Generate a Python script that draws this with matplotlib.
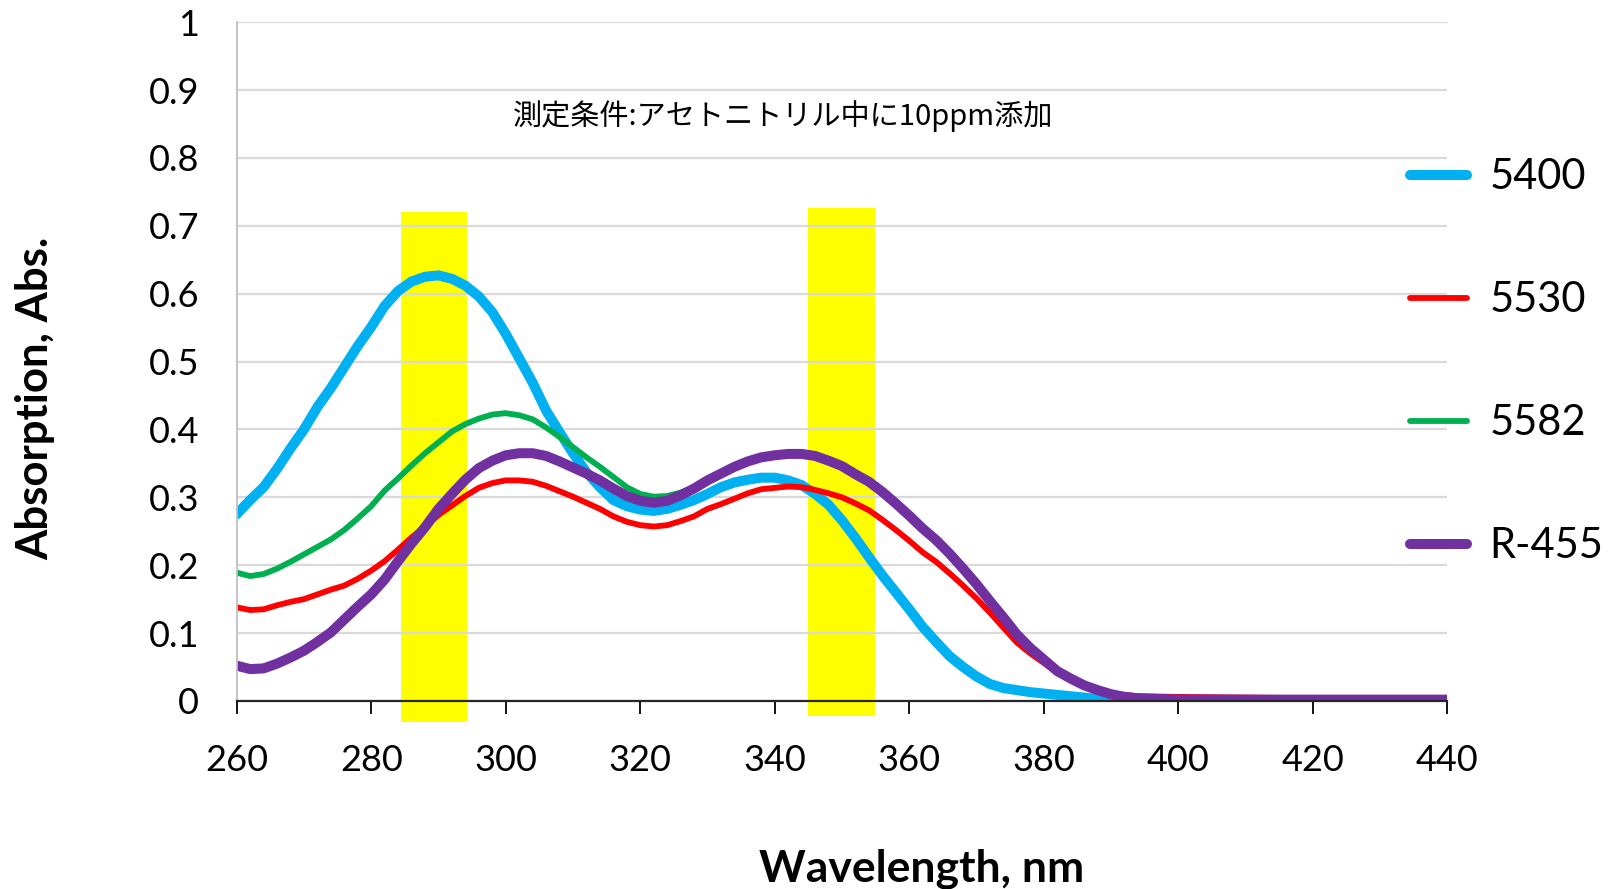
import numpy as np
import matplotlib.pyplot as plt

plt.switch_backend('agg')

# wavelength grid (nm)
wavelength = [260, 262, 264, 266, 268, 270, 272, 274, 276, 278,
              280, 282, 284, 286, 288, 290, 292, 294, 296, 298,
              300, 302, 304, 306, 308, 310, 312, 314, 316, 318,
              320, 322, 324, 326, 328, 330, 332, 334, 336, 338,
              340, 342, 344, 346, 348, 350, 352, 354, 356, 358,
              360, 362, 364, 366, 368, 370, 372, 374, 376, 378,
              380, 382, 384, 386, 388, 390, 392, 394, 400, 410,
              420, 430, 440]

abs_5400 = [0.275, 0.296, 0.315, 0.342, 0.372, 0.400, 0.433, 0.461, 0.492, 0.523,
            0.551, 0.582, 0.604, 0.618, 0.625, 0.627, 0.622, 0.612, 0.596, 0.573,
            0.541, 0.505, 0.469, 0.428, 0.396, 0.365, 0.337, 0.315, 0.296, 0.287,
            0.282, 0.280, 0.283, 0.289, 0.296, 0.305, 0.315, 0.322, 0.326, 0.329,
            0.329, 0.325, 0.318, 0.305, 0.289, 0.266, 0.240, 0.212, 0.185, 0.160,
            0.135, 0.109, 0.087, 0.066, 0.050, 0.036, 0.025, 0.019, 0.016, 0.013,
            0.011, 0.009, 0.007, 0.005, 0.003, 0.002, 0.002, 0.001, 0.001, 0.001,
            0.001, 0.001, 0.001]

abs_5530 = [0.138, 0.134, 0.135, 0.141, 0.146, 0.150, 0.157, 0.164, 0.170, 0.180,
            0.192, 0.206, 0.223, 0.241, 0.257, 0.274, 0.288, 0.302, 0.314, 0.321,
            0.325, 0.325, 0.323, 0.317, 0.309, 0.301, 0.292, 0.283, 0.272, 0.264,
            0.259, 0.257, 0.259, 0.265, 0.272, 0.283, 0.290, 0.298, 0.306, 0.312,
            0.314, 0.316, 0.315, 0.311, 0.306, 0.300, 0.291, 0.281, 0.267, 0.252,
            0.236, 0.219, 0.205, 0.188, 0.170, 0.151, 0.130, 0.108, 0.086, 0.070,
            0.056, 0.042, 0.031, 0.022, 0.016, 0.011, 0.009, 0.007, 0.006, 0.005,
            0.004, 0.004, 0.004]

abs_5582 = [0.189, 0.184, 0.187, 0.195, 0.205, 0.216, 0.227, 0.238, 0.252, 0.269,
            0.287, 0.310, 0.328, 0.347, 0.365, 0.381, 0.397, 0.408, 0.416, 0.422,
            0.424, 0.421, 0.415, 0.403, 0.389, 0.374, 0.359, 0.345, 0.330, 0.315,
            0.305, 0.301, 0.302, 0.307, 0.315, 0.327, 0.337, 0.347, 0.355, 0.361,
            0.364, 0.366, 0.366, 0.363, 0.356, 0.348, 0.336, 0.325, 0.310, 0.293,
            0.275, 0.256, 0.239, 0.219, 0.197, 0.174, 0.149, 0.125, 0.100, 0.080,
            0.063, 0.046, 0.035, 0.025, 0.018, 0.012, 0.008, 0.006, 0.004, 0.003,
            0.003, 0.003, 0.003]

abs_r455 = [0.052, 0.047, 0.048, 0.055, 0.064, 0.074, 0.087, 0.101, 0.120, 0.139,
            0.157, 0.179, 0.206, 0.232, 0.256, 0.283, 0.305, 0.326, 0.343, 0.354,
            0.362, 0.365, 0.365, 0.361, 0.353, 0.344, 0.335, 0.325, 0.313, 0.302,
            0.295, 0.292, 0.295, 0.303, 0.313, 0.325, 0.335, 0.345, 0.353, 0.359,
            0.362, 0.364, 0.364, 0.361, 0.354, 0.346, 0.334, 0.323, 0.308, 0.291,
            0.273, 0.254, 0.237, 0.217, 0.195, 0.172, 0.147, 0.123, 0.098, 0.078,
            0.061, 0.044, 0.033, 0.023, 0.016, 0.010, 0.006, 0.004, 0.002, 0.002,
            0.002, 0.002, 0.002]

series_names = ['5400', '5530', '5582', 'R-455']

# highlighted wavelength bands
band_left = [284.4, 345.0]
band_right = [294.3, 354.9]
band_bottom = [-0.031, -0.022]
band_top = [0.721, 0.726]

xtick_values = [260, 280, 300, 320, 340, 360, 380, 400, 420, 440]
ytick_values = [0, 0.1, 0.2, 0.3, 0.4, 0.5, 0.6, 0.7, 0.8, 0.9, 1.0]
ytick_labels = ['0', '0.1', '0.2', '0.3', '0.4', '0.5', '0.6', '0.7', '0.8', '0.9', '1']

note_text = '測定条件:アセトニトリル中に10ppm添加'

plt.rcParams['font.family'] = ['Lato', 'DejaVu Sans']

fig = plt.figure(figsize=(16.1, 8.89), dpi=100)
ax = fig.add_axes([0.147, 0.2115, 0.752, 0.7635])

for lft, rgt, bot, top in zip(band_left, band_right, band_bottom, band_top):
    ax.bar((lft + rgt) / 2, top - bot, width=rgt - lft, bottom=bot,
           color='#FFFF00', zorder=0.3, clip_on=False)

colors = ['#00B0F0', '#FF0000', '#00B050', '#7030A0']
widths = [7.2, 4.2, 4.2, 7.2]
all_series = [abs_5400, abs_5530, abs_5582, abs_r455]
for vals, name, c, lw in zip(all_series, series_names, colors, widths):
    ax.plot(wavelength, vals, color=c, lw=lw, label=name,
            solid_capstyle='round', solid_joinstyle='round', zorder=2)

ax.set_xlim(260, 440)
ax.set_ylim(0, 1)
ax.set_xticks(xtick_values)
ax.set_yticks(ytick_values)
ax.set_yticklabels(ytick_labels)
ax.tick_params(axis='y', length=0, pad=27, labelsize=26)
ax.tick_params(axis='x', direction='out', length=9, width=1.3, color='black',
               pad=22, labelsize=26)

ax.set_axisbelow('line')
ax.grid(axis='y', color='#D9D9D9', lw=1.6)
ax.spines['top'].set_visible(False)
ax.spines['right'].set_visible(False)
ax.spines['left'].set_color('#BFBFBF')
ax.spines['left'].set_linewidth(1.3)
ax.spines['bottom'].set_color('#262626')
ax.spines['bottom'].set_linewidth(1.6)
ax.spines['bottom'].set_zorder(3)

ax.set_xlabel('Wavelength, nm', fontsize=32, fontweight='bold', va='center')
ax.xaxis.set_label_coords(0.566, -0.247)
ax.set_ylabel('Absorption, Abs.', fontsize=31.5, fontweight='bold', va='center')
ax.yaxis.set_label_coords(-0.166, 0.446)

ax.text(0.451, 0.861, note_text, transform=ax.transAxes, ha='center', va='center',
        fontsize=21, family=['Noto Sans CJK JP', 'DejaVu Sans'])

fig.legend(loc='upper left', bbox_to_anchor=(0.876, 0.822), frameon=False,
           fontsize=30, handlelength=1.35, handletextpad=0.55, labelspacing=2.04,
           borderpad=0, borderaxespad=0)

fig.savefig('out.png', dpi=100)
